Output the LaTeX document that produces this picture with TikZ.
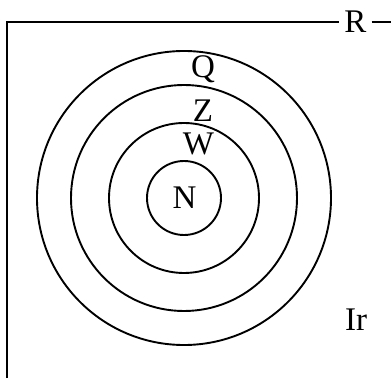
\documentclass[tikz,border=0pt]{standalone}
\usepackage{fontspec}
\setmainfont{Liberation Serif}
\usepackage{tikz}
\usetikzlibrary{positioning}

\begin{document}
\begin{tikzpicture}[x=1pt, y=1pt, font=\fontsize{33}{38}\selectfont,
    lbl/.style={inner sep=0pt, anchor=base}]
  \useasboundingbox (0,0) rectangle (391,378);
  % anelli concentrici, dal piu' piccolo al piu' grande
  \coordinate (ctr) at (184,180);
  \foreach \r in {37, 75, 113, 147}{
    \draw[line width=1.9pt] (ctr) circle (\r);
  }
  % etichette degli anelli
  \node[lbl] (N) at (184.5,169) {N};
  \node[lbl] (W) at (198.5,223) {W};
  \node[lbl] (Z) at (203,256) {Z};
  \node[lbl] (Q) at (203,300) {Q};
  \node[lbl] (Ir) at (356,48) {Ir};
  % cornice con etichetta R
  \node[inner sep=5pt] (R) at (355.5,356) {R};
  \coordinate (angolo) at (7,356);
  \coordinate (basso) at (7,0);
  \coordinate (destra) at (391,356);
  \draw[line width=2.4pt] (basso) -- (angolo) -- (R.west);
  \draw[line width=2.4pt] (R.east) -- (destra);
\end{tikzpicture}
\end{document}
